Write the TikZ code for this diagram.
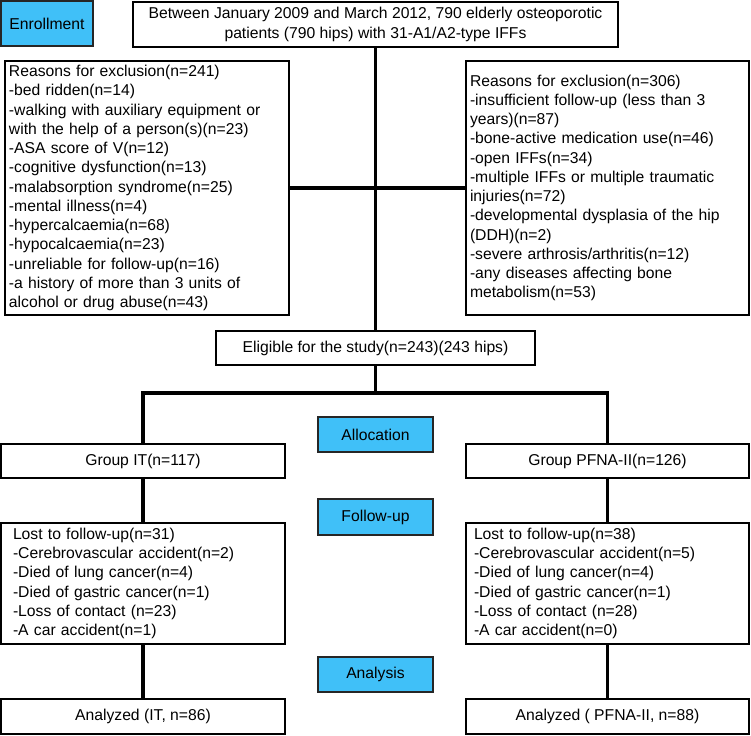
\documentclass[tikz,border=0pt]{standalone}
\usepackage{fontspec}
\setmainfont{Liberation Sans}
\usepackage{tikz}
\definecolor{stage}{RGB}{64,192,248}
\newcommand{\drawlink}{\draw[line width=3.2pt]}
\tikzset{
  every node/.style={font=\fontsize{15.7}{19.25}\selectfont, outer sep=0pt},
  stagebox/.style={draw=black!85, line width=1.8pt, fill=stage, minimum width=115pt, minimum height=35pt, inner sep=0pt},
  plainbox/.style={draw, line width=1.6pt, inner sep=0pt, align=center},
  listbox/.style={draw, line width=1.6pt, inner ysep=0pt, align=left}
}

\begin{document}
\begin{tikzpicture}[x=1pt,y=-1pt]
\useasboundingbox (0,0) rectangle (751,735);
\node[stagebox, minimum width=92pt, minimum height=45pt] (enroll) at (47,23.5) {Enrollment};
\node[plainbox, minimum width=485pt, minimum height=45pt] (patients) at (375.5,24.5) {Between January 2009 and March 2012, 790 elderly osteoporotic\\patients (790 hips) with 31-A1/A2-type IFFs};
\node[listbox, text width=276pt, inner xsep=4pt, minimum height=254pt] (exclleft) at (147,188) {Reasons for exclusion(n=241)\\-bed ridden(n=14)\\-walking with auxiliary equipment or\\with the help of a person(s)(n=23)\\-ASA score of V(n=12)\\-cognitive dysfunction(n=13)\\-malabsorption syndrome(n=25)\\-mental illness(n=4)\\-hypercalcaemia(n=68)\\-hypocalcaemia(n=23)\\-unreliable for follow-up(n=16)\\-a history of more than 3 units of\\alcohol or drug abuse(n=43)};
\node[listbox, text width=275pt, inner xsep=4pt, minimum height=254pt] (exclright) at (607.5,188) {Reasons for exclusion(n=306)\\-insufficient follow-up (less than 3\\years)(n=87)\\-bone-active medication use(n=46)\\-open IFFs(n=34)\\-multiple IFFs or multiple traumatic\\injuries(n=72)\\-developmental dysplasia of the hip\\(DDH)(n=2)\\-severe arthrosis/arthritis(n=12)\\-any diseases affecting bone\\metabolism(n=53)};
\node[plainbox, minimum width=319pt, minimum height=34pt] (eligible) at (375.5,348) {Eligible for the study(n=243)(243 hips)};
\node[stagebox] (allocation) at (375.5,434.5) {Allocation};
\node[plainbox, minimum width=284pt, minimum height=34pt] (groupit) at (143,461) {Group IT(n=117)};
\node[plainbox, minimum width=283pt, minimum height=34pt] (grouppfna) at (607.5,461) {Group PFNA-II(n=126)};
\node[stagebox, minimum height=36pt] (followup) at (375.5,517) {Follow-up};
\node[listbox, text width=260pt, inner xsep=12pt, minimum height=121pt] (lostit) at (143,583.5) {Lost to follow-up(n=31)\\-Cerebrovascular accident(n=2)\\-Died of lung cancer(n=4)\\-Died of gastric cancer(n=1)\\-Loss of contact (n=23)\\-A car accident(n=1)};
\node[listbox, text width=267pt, inner xsep=8pt, minimum height=121pt] (lostpfna) at (607.5,583.5) {Lost to follow-up(n=38)\\-Cerebrovascular accident(n=5)\\-Died of lung cancer(n=4)\\-Died of gastric cancer(n=1)\\-Loss of contact (n=28)\\-A car accident(n=0)};
\node[stagebox] (analysis) at (375.5,674.5) {Analysis};
\node[plainbox, minimum width=284pt, minimum height=35pt] (analyzedit) at (143,716.5) {Analyzed (IT, n=86)};
\node[plainbox, minimum width=283pt, minimum height=35pt] (analyzedpfna) at (607.5,716.5) {Analyzed ( PFNA-II, n=88)};
\coordinate (split) at (375.5,393);
\drawlink (patients) -- (eligible);
\drawlink (exclleft) -- (exclright);
\drawlink (eligible) -- (split);
\drawlink (groupit) |- (split) -| (grouppfna);
\drawlink (groupit) -- (lostit);
\drawlink (grouppfna) -- (lostpfna);
\drawlink (lostit) -- (analyzedit);
\drawlink (lostpfna) -- (analyzedpfna);
\end{tikzpicture}
\end{document}
